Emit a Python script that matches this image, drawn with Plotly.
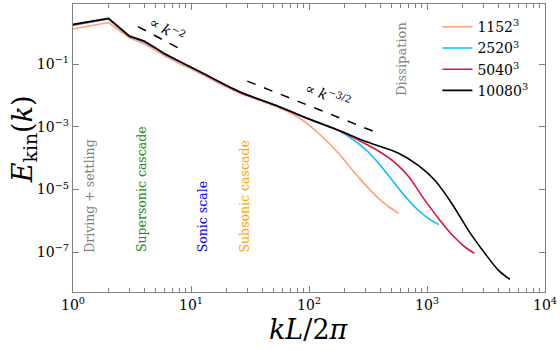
import plotly.graph_objects as go

# ---- data (k values and log10 of E_kin) ----
k_1152 = [1, 2, 3, 4, 5, 6, 8, 10, 13, 25.7, 55.8, 82.4, 121.6, 179.5, 217.8, 265, 321, 390, 474, 576]
logE_1152 = [0.12, 0.33, -0.16, -0.35, -0.56, -0.74, -0.99, -1.15, -1.37, -1.92, -2.39, -2.71,
             -3.22, -3.86, -4.24, -4.62, -4.97, -5.29, -5.55, -5.76]

k_2520 = [1, 2, 3, 4, 5, 6, 8, 10, 13, 25.7, 55.8, 82.4, 170, 265, 321, 390, 474, 576, 700, 849,
          1033, 1260]
logE_2520 = [0.24, 0.44, -0.12, -0.29, -0.50, -0.69, -0.93, -1.10, -1.32, -1.88, -2.35, -2.62,
             -3.08, -3.54, -3.82, -4.17, -4.56, -4.97, -5.35, -5.67, -5.93, -6.12]

k_5040 = [1, 2, 3, 4, 5, 6, 8, 10, 13, 25.7, 55.8, 106, 180, 303, 390, 523, 701, 939, 1257, 1683,
          2125, 2520]
logE_5040 = [0.25, 0.45, -0.11, -0.27, -0.49, -0.68, -0.92, -1.10, -1.32, -1.88, -2.36, -2.79,
             -3.12, -3.55, -3.78, -4.11, -4.59, -5.29, -5.93, -6.50, -6.85, -7.04]

k_10080 = [1, 2, 3, 4, 5, 6, 8, 10, 13, 25.7, 55.8, 106, 180, 303, 390, 575, 849, 1175, 1633,
           2249, 3113, 4036, 5040]
logE_10080 = [0.27, 0.465, -0.10, -0.26, -0.48, -0.67, -0.91, -1.09, -1.31, -1.88, -2.36, -2.79,
              -3.12, -3.47, -3.61, -3.84, -4.24, -4.72, -5.46, -6.31, -7.05, -7.58, -7.87]

series_names = ["1152<sup>3</sup>", "2520<sup>3</sup>", "5040<sup>3</sup>", "10080<sup>3</sup>"]
series_colors = ["#FFA07A", "#00BFFF", "#DC143C", "#000000"]

# reference power laws
k_ref2 = [3.55, 8.8]
amp_ref2 = 20.0
k_ref32 = [30, 405]
amp_ref32 = 4.74

# region labels: (text, log10 k position, colour)
region_text = ["Driving + settling", "Supersonic cascade", "Sonic scale", "Subsonic cascade"]
region_logk = [0.143, 0.582, 1.097, 1.45]
region_color = ["#808080", "#228B22", "#0000FF", "#FFA500"]

FONT = "DejaVu Serif"
K_SPLIT = 13  # low-k part drawn with straight segments, high-k part smoothed

fig = go.Figure()
all_k = [k_1152, k_2520, k_5040, k_10080]
all_logE = [logE_1152, logE_2520, logE_5040, logE_10080]
for i, (kk, le, nm, c) in enumerate(zip(all_k, all_logE, series_names, series_colors)):
    lo = [j for j, k in enumerate(kk) if k <= K_SPLIT]
    hi = [j for j, k in enumerate(kk) if k >= K_SPLIT]
    fig.add_trace(go.Scatter(x=[kk[j] for j in lo], y=[10 ** le[j] for j in lo], mode="lines",
                             name=nm, legendgroup=f"g{i}", showlegend=True,
                             line=dict(color=c, width=1.6)))
    fig.add_trace(go.Scatter(x=[kk[j] for j in hi], y=[10 ** le[j] for j in hi], mode="lines",
                             name=nm, legendgroup=f"g{i}", showlegend=False,
                             line=dict(color=c, width=1.6, shape="spline", smoothing=0.8)))

fig.add_trace(go.Scatter(x=k_ref2, y=[amp_ref2 * k ** -2 for k in k_ref2], mode="lines",
                         showlegend=False, line=dict(color="black", width=1.5, dash="dash")))
fig.add_trace(go.Scatter(x=k_ref32, y=[amp_ref32 * k ** -1.5 for k in k_ref32], mode="lines",
                         showlegend=False, line=dict(color="black", width=1.5, dash="dash")))

ann = []
for t, lx, c in zip(region_text, region_logk, region_color):
    ann.append(dict(x=lx, y=-7.07, xref="x", yref="y", text=t, showarrow=False,
                    textangle=-90, xanchor="center", yanchor="bottom",
                    font=dict(family=FONT, size=12.5, color=c)))
ann.append(dict(x=2.785, y=-2.09, xref="x", yref="y", text="Dissipation", showarrow=False,
                textangle=-90, xanchor="center", yanchor="bottom",
                font=dict(family=FONT, size=13, color="#808080")))
ann.append(dict(x=0.80, y=0.13, xref="x", yref="y", text="∝ <i>k</i><sup>−2</sup>",
                showarrow=False, textangle=29, font=dict(family=FONT, size=14, color="black")))
ann.append(dict(x=2.165, y=-1.97, xref="x", yref="y", text="∝ <i>k</i><sup>−3/2</sup>",
                showarrow=False, textangle=21, font=dict(family=FONT, size=14, color="black")))
ann.append(dict(x=0.5, y=-0.13, xref="paper", yref="paper", text="<i>kL</i>/2<i>π</i>",
                showarrow=False, xanchor="center", yanchor="middle",
                font=dict(family=FONT, size=27, color="black")))
ann.append(dict(x=-0.104, y=0.53, xref="paper", yref="paper",
                text="<i>E</i><sub>kin</sub>(<i>k</i>)", showarrow=False, textangle=-90,
                xanchor="center", yanchor="middle",
                font=dict(family=FONT, size=27, color="black")))

minor_x = [m * 10 ** d for d in range(4) for m in range(2, 10)]

fig.update_layout(
    width=560, height=350,
    margin=dict(l=73, r=13, t=3, b=58),
    plot_bgcolor="white", paper_bgcolor="white",
    font=dict(family=FONT, size=14, color="black"),
    annotations=ann,
    legend=dict(x=0.772, y=0.975, xanchor="left", yanchor="top", bgcolor="rgba(0,0,0,0)",
                font=dict(family=FONT, size=14), tracegroupgap=0),
    showlegend=True,
)
fig.update_xaxes(type="log", range=[0, 4], showgrid=False, zeroline=False,
                 showline=True, linecolor="#808080", linewidth=1.2, mirror="ticks",
                 ticks="inside", ticklen=6, tickcolor="#808080",
                 tickvals=[1, 10, 100, 1000, 10000],
                 ticktext=["10<sup>0</sup>", "10<sup>1</sup>", "10<sup>2</sup>", "10<sup>3</sup>",
                           "10<sup>4</sup>"],
                 minor=dict(tickvals=minor_x, ticks="inside", ticklen=4, tickcolor="#808080",
                            showgrid=False))
fig.update_yaxes(type="log", range=[-8.27, 0.92], showgrid=False, zeroline=False,
                 showline=True, linecolor="#808080", linewidth=1.2, mirror="ticks",
                 ticks="inside", ticklen=6, tickcolor="#808080",
                 tickvals=[1e-7, 1e-5, 1e-3, 1e-1],
                 ticktext=["10<sup>−7</sup>", "10<sup>−5</sup>", "10<sup>−3</sup>", "10<sup>−1</sup>"])

fig.write_html("out.html")
